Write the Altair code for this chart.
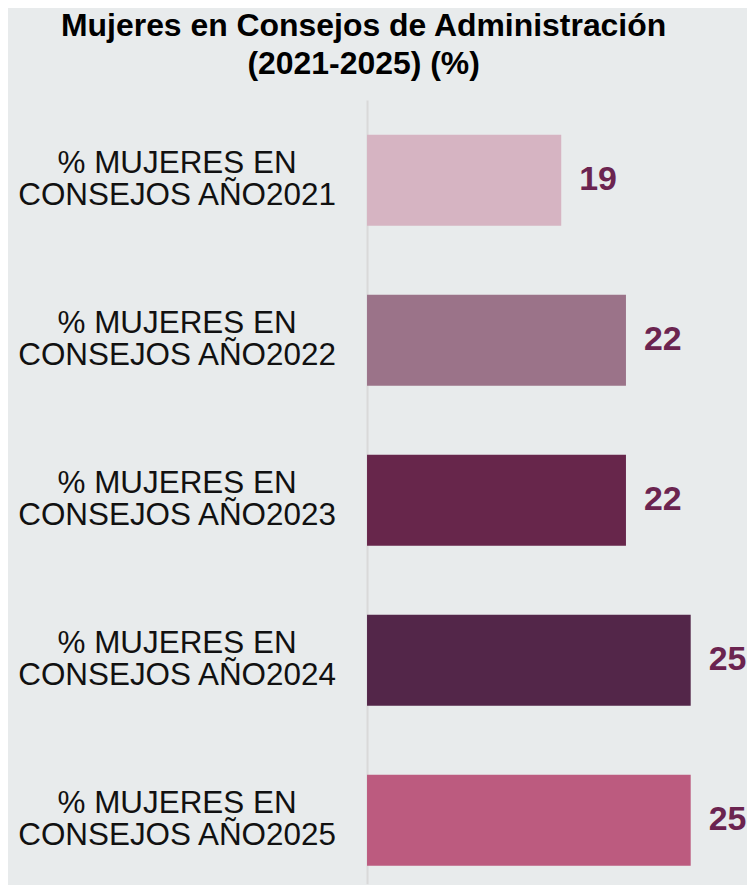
import altair as alt
import pandas as pd

years = ["2021", "2022", "2023", "2024", "2025"]
values = [19, 22, 22, 25, 25]
colors = ["#d6b4c2", "#9b7389", "#67264b", "#532649", "#bc5b7f"]
labels = ["% MUJERES EN|CONSEJOS AÑO" + y for y in years]

df = pd.DataFrame({"label": labels, "value": values, "year": years})

font = "Liberation Sans"

y_enc = alt.Y(
    "label:N",
    sort=None,
    scale=alt.Scale(paddingInner=0.431, paddingOuter=0.165, align=0.66),
    axis=alt.Axis(
        title=None,
        labelExpr="split(datum.label, '|')",
        labelFontSize=31.5,
        labelFont=font,
        labelColor="#111111",
        labelAlign="center",
        labelPadding=191,
        labelLineHeight=32,
        labelOffset=-16,
        labelLimit=0,
        ticks=False,
        domainColor="#d9d9d9",
        domainWidth=2,
        grid=False,
    ),
)

x_enc = alt.X(
    "value:Q",
    scale=alt.Scale(domain=[10, 26.5], zero=False, nice=False),
    axis=None,
)

base = alt.Chart(df)

bars = base.mark_bar().encode(
    y=y_enc,
    x=x_enc,
    x2=alt.datum(10),
    color=alt.Color("year:N", scale=alt.Scale(domain=years, range=colors), legend=None),
)

text = base.mark_text(
    align="left", baseline="middle", dx=18, fontSize=34, fontWeight="bold",
    color="#6b2450", font=font,
).encode(y=y_enc, x=x_enc, text="value:Q")

chart = (
    alt.layer(bars, text)
    .properties(
        width=357,
        height=786,
        background="#e8ebec",
        title=alt.Title(
            ["Mujeres en Consejos de Administración", "(2021-2025) (%)"],
            fontSize=32,
            font=font,
            fontWeight="bold",
            color="#000000",
            lineHeight=38,
            anchor="middle",
            frame="bounds",
            offset=19,
            dx=-18,
        ),
        padding={"left": 8, "top": 1, "right": 0, "bottom": 0},
    )
    .configure_view(stroke=None)
)

chart.save("out.html", embed_options={"renderer": "svg", "actions": False})
